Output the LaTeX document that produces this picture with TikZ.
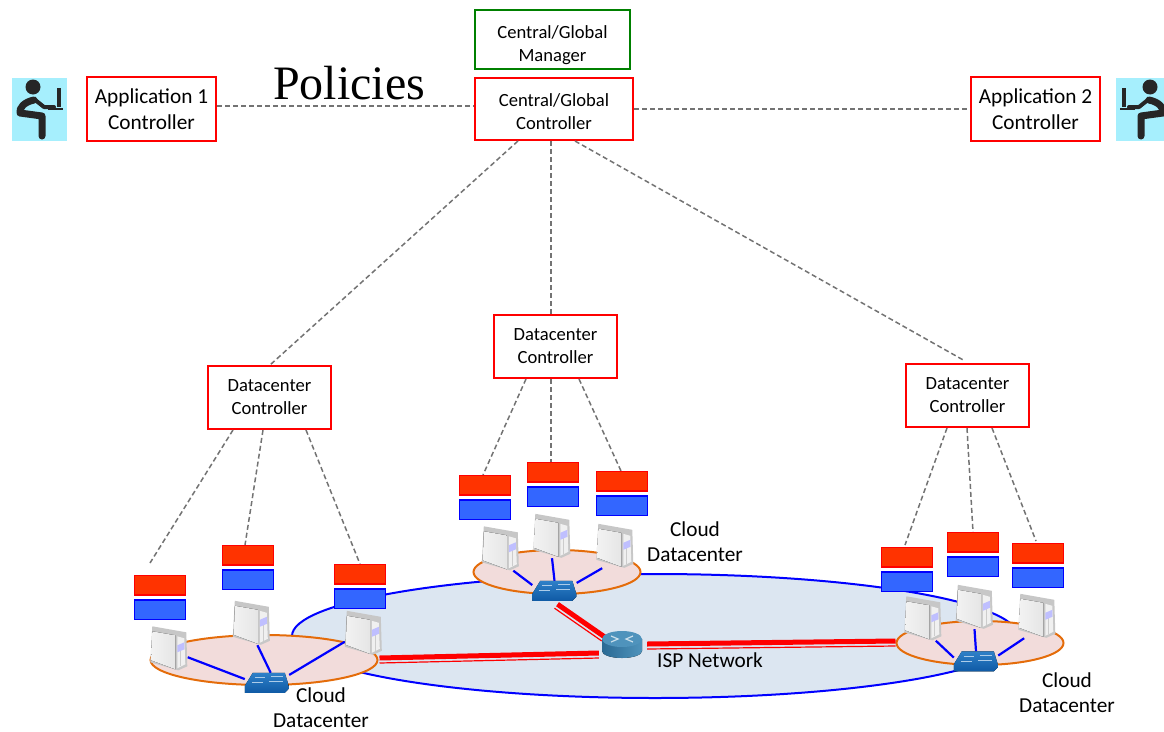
\documentclass[tikz,border=0pt]{standalone}
\usepackage{fontspec}
\setmainfont{Carlito}
\newfontfamily\policyfont{Liberation Serif}
\usetikzlibrary{shapes.geometric}
\definecolor{ringfill}{HTML}{F2DCDB}
\definecolor{ringline}{HTML}{E46C0A}
\definecolor{ispfill}{HTML}{DCE6F1}
\definecolor{userfill}{HTML}{A6EFFD}
\definecolor{vmred}{HTML}{FF3300}
\definecolor{vmblue}{HTML}{3366FF}
\definecolor{swtop}{HTML}{2F80C8}
\definecolor{swbot}{HTML}{0F5AA5}
\definecolor{rttop}{HTML}{4F93BC}
\definecolor{rtbot}{HTML}{2A6A94}
\tikzset{
  redbox/.style={draw=red, line width=2pt, fill=white, align=center, inner sep=0pt},
  greenbox/.style={draw=green!50!black, line width=2pt, fill=white, align=center, inner sep=0pt},
  ctrldash/.style={draw=black!55, line width=1.5pt, dash pattern=on 5pt off 3pt},
  ringnode/.style={ellipse, draw=ringline, fill=ringfill, line width=2pt, inner sep=0pt},
  bluelink/.style={draw=blue, line width=2.2pt},
  hostnode/.style={inner sep=0pt, minimum width=37pt, minimum height=44pt},
  swnode/.style={inner sep=0pt, minimum width=44pt, minimum height=20pt},
  label/.style={font=\fontsize{21.3}{25}\selectfont, align=center},
  smalltext/.style={font=\fontsize{18.6}{23}\selectfont},
}
% one server tower
\newcommand{\hostdraw}[1]{
  \begin{scope}[shift={(#1.north west)}]
    \fill[black!22] (2,0) -- (36,6) -- (37,40) -- (28,44) -- (0,36) -- cycle;
    \fill[left color=black!5, right color=black!10] (2,5) -- (25,9) -- (25,43) -- (1,34) -- cycle;
    \fill[black!6] (27,10) -- (34,12) -- (35,38) -- (27,42) -- cycle;
    \draw[black!20, line width=0.7pt] (30.5,24) -- (30.5,40);
    \fill[blue!25] (27,19) -- (34,16) -- (34,23) -- (27,26) -- cycle;
  \end{scope}
}
% one switch
\newcommand{\swdraw}[1]{
  \begin{scope}[shift={(#1.north west)}]
    \fill[top color=swtop, bottom color=swbot] (8,0) -- (40,0) -- (44,13) -- (44,16) -- (40,20) -- (0,20) -- (0,13) -- cycle;
    \draw[white!60!swtop, line width=1pt] (10,5) -- (20,5) (26,4) -- (38,4) (7,10) -- (18,10) (24,9) -- (38,9);
  \end{scope}
}
% red and blue block pair
\newcommand{\vmpair}[2]{
  \draw[draw=red, fill=vmred, line width=1.5pt] (#1+0.7,#2+0.7) rectangle ++(51,19.5);
  \draw[draw=blue, fill=vmblue, line width=1.5pt] (#1+0.7,#2+25) rectangle ++(51,19.5);
}
% sitting person
\newcommand{\userdraw}{
  \fill[userfill] (0,0) rectangle (55,63);
  \fill[black!85] (21,9) circle (7.5);
  \draw[black!85, line width=7pt, line cap=round, line join=round] (22,22) .. controls (12,24) and (7,30) .. (8,35) -- (30,38) -- (30,58);
  \draw[black!85, line width=4pt, line cap=round, line join=round] (22,21) -- (32,29) -- (42,29);
  \draw[black!85, line width=4.5pt] (47,10) -- (47,29);
  \draw[black!85, line width=1.5pt] (36,31) -- (51,31);
}
\begin{document}
\begin{tikzpicture}[x=1pt, y=-1pt]
\useasboundingbox (0,0) rectangle (1164,731);
\clip (0,0) rectangle (1164,731);

% isp network and the three datacenters
\node[ellipse, draw=blue, fill=ispfill, line width=2pt, inner sep=0pt, minimum width=726pt, minimum height=124pt] (isp) at (655,636) {};
\node[ringnode, minimum width=227pt, minimum height=50pt] (ringL) at (264,660) {};
\node[ringnode, minimum width=167pt, minimum height=44pt] (ringM) at (557,572) {};
\node[ringnode, minimum width=167pt, minimum height=44pt] (ringR) at (980,643) {};

% controllers
\node[greenbox, smalltext, minimum width=155pt, minimum height=59pt] (manager) at (552.5,39.5) {\rule{0pt}{24pt}Central/Global\\Manager};
\node[redbox, smalltext, minimum width=158pt, minimum height=62pt] (central) at (554,109) {\rule{0pt}{18pt}Central/Global\\Controller};
\node[redbox, minimum width=129pt, minimum height=64pt, font=\fontsize{21.3}{26}\selectfont] (appA) at (151.5,109) {Application 1\\Controller};
\node[redbox, minimum width=129pt, minimum height=64pt, font=\fontsize{21.3}{26}\selectfont] (appB) at (1035.5,109) {Application 2\\Controller};
\node[redbox, smalltext, minimum width=123pt, minimum height=63pt] (dcL) at (269.5,397.5) {Datacenter\\Controller};
\node[redbox, smalltext, minimum width=123pt, minimum height=63pt] (dcM) at (555.5,346.5) {Datacenter\\Controller};
\node[redbox, smalltext, minimum width=123pt, minimum height=63pt] (dcR) at (967.5,395.5) {Datacenter\\Controller};
\node[font=\fontsize{48}{48}\selectfont\policyfont] (policies) at (349,83) {Policies};

% free ends of the dashed lines
\coordinate (endL1) at (150,563);
\coordinate (endL2) at (245,545);
\coordinate (endL3) at (360,564);
\coordinate (endM1) at (483,475);
\coordinate (endM2) at (551,462);
\coordinate (endM3) at (621,471);
\coordinate (endR1) at (905,545);
\coordinate (endR2) at (973,532);
\coordinate (endR3) at (1036,541);

\draw[ctrldash] ([yshift=3pt]appA.east) -- ([yshift=3pt]central.west);
\draw[ctrldash] (central.east) -- (appB.west);
\draw[ctrldash] ([xshift=-36pt]central.south) -- ([xshift=0.5pt]dcL.north);
\draw[ctrldash] ([xshift=-3pt]central.south) -- ([xshift=-4.5pt]dcM.north);
\draw[ctrldash] ([xshift=21pt]central.south) -- ([xshift=-2.5pt,yshift=2pt]dcR.north);
\draw[ctrldash] ([xshift=-36.5pt]dcL.south) -- (endL1);
\draw[ctrldash] ([xshift=-6.5pt]dcL.south) -- (endL2);
\draw[ctrldash] ([xshift=36.5pt]dcL.south) -- (endL3);
\draw[ctrldash] ([xshift=-29.5pt]dcM.south) -- (endM1);
\draw[ctrldash] ([xshift=-4.5pt]dcM.south) -- (endM2);
\draw[ctrldash] ([xshift=23.5pt]dcM.south) -- (endM3);
\draw[ctrldash] ([xshift=-20.5pt]dcR.south) -- (endR1);
\draw[ctrldash] ([xshift=-0.5pt]dcR.south) -- (endR2);
\draw[ctrldash] ([xshift=24.5pt]dcR.south) -- (endR3);

% servers, switches and router
\node[hostnode] (hostLa) at (169,648.5) {};
\node[hostnode] (hostLb) at (251.5,623) {};
\node[hostnode] (hostLc) at (363.5,633) {};
\node[hostnode] (hostMa) at (500.5,548.5) {};
\node[hostnode] (hostMb) at (552,536) {};
\node[hostnode] (hostMc) at (615,546) {};
\node[hostnode] (hostRa) at (923,618.5) {};
\node[hostnode] (hostRb) at (974.5,607) {};
\node[hostnode] (hostRc) at (1037,616) {};
\node[swnode] (swL) at (267,683) {};
\node[swnode] (swM) at (554.5,591) {};
\node[swnode] (swR) at (976,661.5) {};
\node[ellipse, inner sep=0pt, minimum width=40pt, minimum height=28pt] (router) at (622,645) {};

\draw[bluelink] (hostLa.-25) -- (swL.170);
\draw[bluelink] (hostLb.-75) -- (swL.70);
\draw[bluelink] (hostLc.-155) -- (swL.20);
\draw[bluelink] (hostMa.-60) -- (swM.165);
\draw[bluelink] (swM.north) -- (hostMb.south);
\draw[bluelink] (hostMc.-120) -- (swM.20);
\draw[bluelink] (hostRa.-60) -- (swR.170);
\draw[bluelink] (hostRb.south) -- (swR.north);
\draw[bluelink] (hostRc.-120) -- (swR.15);

% red links, a thick line with a thin one beside it
\draw[red, line width=5pt] ([xshift=1pt,yshift=2pt]ringL.east) -- ([xshift=-3pt,yshift=-8pt]router.west);
\draw[red, line width=1.2pt] ([xshift=1pt,yshift=-3pt]ringL.east) -- ([xshift=-3pt,yshift=-13pt]router.west);
\draw[red, line width=5pt] ([xshift=5pt,yshift=1pt]router.east) -- ([yshift=2pt]ringR.west);
\draw[red, line width=1.2pt] ([xshift=5pt,yshift=-4pt]router.east) -- ([yshift=-3pt]ringR.west);
\draw[red, line width=5pt] ([xshift=3pt,yshift=-3pt]swM.south) -- ([xshift=-3pt,yshift=-2pt]router.north west);
\draw[red, line width=1.2pt] ([xshift=0pt,yshift=-7pt]swM.south) -- ([xshift=-6pt,yshift=-6pt]router.north west);

\foreach \h in {hostLa,hostLb,hostLc,hostMa,hostMb,hostMc,hostRa,hostRb,hostRc} {\hostdraw{\h}}
\foreach \s in {swL,swM,swR} {\swdraw{\s}}

% router
\begin{scope}[shift={(router.center)}]
  \fill[left color=rtbot, right color=rttop] (-20,-6) -- (20,-6) -- (20,6) arc[start angle=0, end angle=180, x radius=20, y radius=7] -- cycle;
  \fill[rttop] (0,-6) ellipse (20 and 8);
  \draw[white!70!rttop, line width=1.2pt] (-11,-9) -- (-4,-6) -- (-11,-3) (11,-9) -- (4,-6) -- (11,-3);
\end{scope}

% red and blue blocks
\vmpair{134}{575}
\vmpair{222}{545}
\vmpair{334}{564}
\vmpair{459}{475}
\vmpair{527}{462}
\vmpair{596}{471}
\vmpair{881}{547}
\vmpair{947}{532}
\vmpair{1012}{543}

% users
\begin{scope}[shift={(12,78)}]
  \userdraw
\end{scope}
\begin{scope}[shift={(1171,78)}, xscale=-1]
  \userdraw
\end{scope}

% labels
\node[label] (cloudL) at (321,707.5) {Cloud\\Datacenter};
\node[label] (cloudM) at (695,541.5) {Cloud\\Datacenter};
\node[label] (cloudR) at (1067,693) {Cloud\\Datacenter};
\node[label] (isplabel) at (710,660) {ISP Network};
\end{tikzpicture}
\end{document}
